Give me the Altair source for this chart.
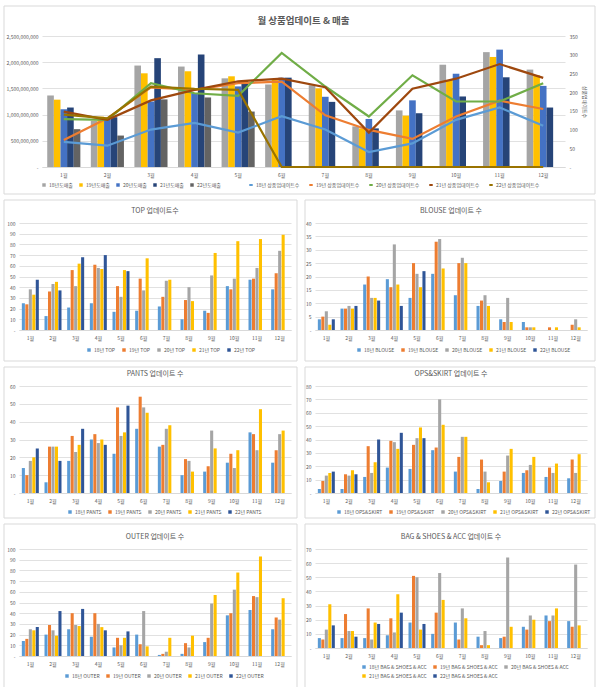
import altair as alt
import pandas as pd

FONT = "Noto Sans CJK KR"
TXT = "#595959"
GRID = "#D9D9D9"

months = ["1월", "2월", "3월", "4월", "5월", "6월", "7월", "8월", "9월", "10월", "11월", "12월"]
years = ["18", "19", "20", "21", "22"]

# ---- top chart: sales (bars) ----
sales_names = ["18년도매출", "19년도매출", "20년도매출", "21년도매출", "22년도매출"]
sales_18 = [1365e6, 880e6, 1936e6, 1917e6, 1692e6, 1575e6, 1560e6, 775e6, 1080e6, 1952e6, 2192e6, 1859e6]
sales_19 = [1285e6, 960e6, 1788e6, 1827e6, 1731e6, 1680e6, 1500e6, 737e6, 980e6, 1660e6, 2100e6, 1750e6]
sales_20 = [1102e6, 900e6, 1250e6, 1410e6, 1538e6, 1705e6, 1340e6, 917e6, 1272e6, 1780e6, 2240e6, 1548e6]
sales_21 = [1135e6, 950e6, 2077e6, 2147e6, 1640e6, 1705e6, 1243e6, 737e6, 1026e6, 1346e6, 1712e6, 1135e6]
sales_22 = [722e6, 600e6, 1290e6, 1327e6, 1058e6, None, None, None, None, None, None, None]
sales_colors = ["#A5A5A5", "#FFC000", "#4472C4", "#264478", "#636363"]

# ---- top chart: update counts (lines) ----
upd_names = ["18년 상품업데이트수", "19년 상품업데이트수", "20년 상품업데이트수", "21년 상품업데이트수", "22년 상품업데이트수"]
upd_18 = [67, 57, 100, 118, 92, 136, 100, 40, 63, 126, 159, 110]
upd_19 = [72, 130, 213, 206, 224, 228, 138, 99, 75, 135, 177, 155]
upd_20 = [128, 126, 224, 197, 190, 305, 215, 135, 245, 175, 175, 224]
upd_21 = [148, 126, 178, 206, 229, 236, 213, 92, 209, 236, 275, 238]
upd_22 = [140, 130, 215, 209, 206, 0, 0, 0, 0, 0, 0, 0]
upd_colors = ["#5B9BD5", "#ED7D31", "#70AD47", "#9E480E", "#997300"]

# ---- category panels ----
panel_colors = ["#5B9BD5", "#ED7D31", "#A5A5A5", "#FFC000", "#2F5597"]

top_18 = [25, 13, 21, 25, 17, 18, 22, 10, 18, 41, 47, 38]
top_19 = [24, 36, 56, 61, 41, 48, 31, 28, 16, 38, 48, 53]
top_20 = [38, 43, 41, 58, 31, 37, 46, 40, 51, 48, 58, 74]
top_21 = [33, 45, 62, 57, 56, 67, 47, 27, 72, 83, 85, 89]
top_22 = [47, 37, 68, 70, 55, None, None, None, None, None, None, None]

blouse_18 = [4, 8, 17, 19, 12, 21, 13, 9, 4, 3, 0, 0]
blouse_19 = [5, 8, 20, 16, 25, 33, 25, 11, 3, 1, 1, 2]
blouse_20 = [7, 9, 12, 32, 21, 34, 27, 13, 12, 1, 0, 4]
blouse_21 = [2, 8, 12, 17, 16, 23, 25, 9, 3, 1, 1, 1]
blouse_22 = [4, 9, 11, 9, 22, None, None, None, None, None, None, None]

pants_18 = [14, 6, 18, 30, 22, 36, 26, 10, 12, 17, 34, 17]
pants_19 = [10, 26, 32, 33, 48, 54, 27, 19, 15, 22, 33, 24]
pants_20 = [18, 26, 23, 28, 32, 48, 36, 18, 35, 14, 24, 33]
pants_21 = [20, 26, 27, 30, 34, 45, 38, 12, 25, 24, 47, 35]
pants_22 = [25, 18, 36, 27, 49, None, None, None, None, None, None, None]

ops_18 = [3, 3, 12, 19, 18, 32, 16, 3, 9, 15, 12, 11]
ops_19 = [9, 14, 35, 39, 36, 34, 27, 25, 16, 17, 19, 25]
ops_20 = [13, 13, 15, 38, 41, 70, 42, 16, 28, 21, 15, 15]
ops_21 = [15, 17, 23, 33, 49, 51, 42, 8, 33, 27, 22, 29]
ops_22 = [16, 14, 40, 45, 41, None, None, None, None, None, None, None]

outer_18 = [14, 20, 25, 18, 8, 20, 1, 2, 13, 38, 43, 25]
outer_19 = [16, 29, 40, 40, 17, 11, 2, 12, 17, 40, 56, 36]
outer_20 = [25, 24, 29, 30, 10, 42, 4, 8, 49, 62, 55, 34]
outer_21 = [24, 19, 28, 27, 17, 9, 17, 19, 57, 78, 93, 54]
outer_22 = [27, 42, 44, 24, 23, None, None, None, None, None, None, None]

bag_18 = [7, 7, 7, 9, 18, 10, 18, 8, 7, 15, 23, 19]
bag_19 = [6, 24, 28, 21, 51, 25, 6, 2, 8, 13, 19, 15]
bag_20 = [13, 12, 6, 11, 50, 53, 28, 12, 64, 23, 23, 59]
bag_21 = [31, 12, 18, 38, 13, 34, 21, 2, 15, 20, 28, 16]
bag_22 = [16, 8, 17, 25, 17, None, None, None, None, None, None, None]

dummy = pd.DataFrame({"d": [0]})


def long_table(names, series_list):
    rows = []
    for name, series in zip(names, series_list):
        for m, v in zip(months, series):
            if v is not None:
                rows.append({"month": m, "series": name, "value": v})
    return pd.DataFrame(rows)


def frame_layer(x1, y1, x2, y2):
    return alt.Chart(dummy).mark_rect(fill="white", fillOpacity=0, stroke=GRID, strokeWidth=1).encode(
        x=alt.value(x1), x2=alt.value(x2), y=alt.value(y1), y2=alt.value(y2)
    )


def text_layer(txt, x, y, size, bold=False):
    return alt.Chart(dummy).mark_text(
        text=txt, font=FONT, fontSize=size, color=TXT,
        fontWeight="bold" if bold else "normal", align="center", baseline="middle"
    ).encode(x=alt.value(x), y=alt.value(y))


def x_axis():
    return alt.Axis(title=None, labelFont=FONT, labelFontSize=5, labelColor=TXT, ticks=False,
                    domainColor=GRID, labelAngle=0, labelPadding=5, grid=False)


def legend(x, y, cols, stype="square"):
    return alt.Legend(title=None, orient="none", legendX=x, legendY=y, direction="horizontal",
                      columns=cols, labelFont=FONT, labelFontSize=5, labelColor=TXT,
                      symbolType=stype, symbolSize=12, symbolStrokeWidth=2,
                      columnPadding=5, rowPadding=3, labelOffset=2, padding=0)


# ---------------- top combined chart ----------------
TW, TH = 523, 131
sales_df = long_table(sales_names, [sales_18, sales_19, sales_20, sales_21, sales_22])
upd_df = long_table(upd_names, [upd_18, upd_19, upd_20, upd_21, upd_22])

top_bars = alt.Chart(sales_df).mark_bar().encode(
    x=alt.X("month:N", sort=months, scale=alt.Scale(domain=months, paddingInner=0.24, paddingOuter=0.12), axis=x_axis()),
    xOffset=alt.XOffset("series:N", sort=sales_names, scale=alt.Scale(domain=sales_names, paddingInner=0)),
    y=alt.Y("value:Q", scale=alt.Scale(domain=[0, 2.5e9]),
            axis=alt.Axis(title=None, orient="left", values=[0, 5e8, 1e9, 1.5e9, 2e9, 2.5e9],
                          labelExpr="datum.value == 0 ? '-' : format(datum.value, ',')", labelFont=FONT,
                          labelFontSize=5, labelColor=TXT, ticks=False, domain=False,
                          gridColor=GRID, gridWidth=0.8, labelPadding=4)),
    color=alt.Color("series:N", scale=alt.Scale(domain=sales_names, range=sales_colors),
                    legend=legend(-1, 146, 5, "square")),
)

top_lines = alt.Chart(upd_df).mark_line(strokeWidth=2.2).encode(
    x=alt.X("month:N", sort=months),
    y=alt.Y("value:Q", scale=alt.Scale(domain=[0, 350]),
            axis=alt.Axis(title="상품업데이트수", orient="right", values=list(range(0, 351, 50)),
                          labelExpr="datum.value == 0 ? '-' : datum.label", labelFont=FONT,
                          labelFontSize=5, labelColor=TXT, ticks=False, domain=False, grid=False,
                          labelPadding=4, titleFont=FONT, titleFontSize=5, titleColor=TXT,
                          titleFontWeight="normal", titlePadding=4)),
    stroke=alt.Stroke("series:N", scale=alt.Scale(domain=upd_names, range=upd_colors),
                      legend=legend(206, 146, 5, "stroke")),
)

top_chart = alt.layer(
    frame_layer(-38, -30, 553, 158),
    text_layer("월 상품업데이트 & 매출", TW / 2, -15, 9.5, bold=True),
    top_bars,
    top_lines,
).resolve_scale(y="independent", color="independent").properties(width=TW, height=TH)

# invisible spacer that pushes the top chart's plot 23px right of the panels' plots
spacer = alt.Chart(dummy).mark_point(opacity=0).encode(
    x=alt.value(0), y=alt.value(0)
).properties(width=23, height=1)


# ---------------- category panels ----------------
def panel(title, suffix, series_list, ymax, step, height, frame, leg_xy, cols=5, pw=272):
    names = [f"{y}년 {suffix}" for y in years]
    df = long_table(names, series_list)
    bars = alt.Chart(df).mark_bar().encode(
        x=alt.X("month:N", sort=months, scale=alt.Scale(domain=months, paddingInner=0.25, paddingOuter=0.125),
                axis=x_axis()),
        xOffset=alt.XOffset("series:N", sort=names, scale=alt.Scale(domain=names, paddingInner=0.12)),
        y=alt.Y("value:Q", scale=alt.Scale(domain=[0, ymax]),
                axis=alt.Axis(title=None, values=list(range(0, ymax + 1, step)),
                              labelExpr="datum.value == 0 ? '-' : datum.label", labelFont=FONT,
                              labelFontSize=5, labelColor=TXT, ticks=False, domain=False,
                              gridColor=GRID, gridWidth=0.8, labelPadding=4)),
        color=alt.Color("series:N", scale=alt.Scale(domain=names, range=panel_colors),
                        legend=legend(leg_xy[0], leg_xy[1], cols)),
    )
    return alt.layer(
        frame_layer(*frame),
        text_layer(title, pw / 2, -12, 7),
        bars,
    ).properties(width=pw, height=height)


p_top = panel("TOP 업데이트수", "TOP", [top_18, top_19, top_20, top_21, top_22], 100, 10, 107,
              (-15, -23, 278, 138), (67, 124))
p_blouse = panel("BLOUSE 업데이트 수", "BLOUSE", [blouse_18, blouse_19, blouse_20, blouse_21, blouse_22], 40, 5, 107,
                 (-10, -23, 280, 138), (41, 124))
p_pants = panel("PANTS 업데이트 수", "PANTS", [pants_18, pants_19, pants_20, pants_21, pants_22], 60, 10, 107,
                (-15, -19, 278, 132), (48, 123))
p_ops = panel("OPS&SKIRT 업데이트 수", "OPS&SKIRT", [ops_18, ops_19, ops_20, ops_21, ops_22], 80, 10, 107,
              (-10, -19, 280, 132), (21, 123))
p_outer = panel("OUTER 업데이트 수", "OUTER", [outer_18, outer_19, outer_20, outer_21, outer_22], 100, 10, 107,
                (-15, -25, 278, 142), (45, 124))
p_bag = panel("BAG & SHOES & ACC 업데이트 수", "BAG & SHOES & ACC", [bag_18, bag_19, bag_20, bag_21, bag_22], 70, 10, 99,
              (-10, -25, 280, 142), (46, 115), cols=3)

res = dict(x="independent", y="independent", color="independent", xOffset="independent")
row0 = alt.hconcat(spacer, top_chart, spacing=0, bounds="flush").resolve_scale(
    x="independent", y="independent", color="independent", stroke="independent", xOffset="independent")
row1 = alt.hconcat(p_top, p_blouse, spacing=24, bounds="flush").resolve_scale(**res)
row2 = alt.hconcat(p_pants, p_ops, spacing=24, bounds="flush").resolve_scale(**res)
row3 = alt.hconcat(p_outer, p_bag, spacing=24, bounds="flush").resolve_scale(**res)

chart = alt.vconcat(row0, row1, row2, row3, spacing=4).resolve_scale(
    **res
).properties(
    padding={"left": 3, "top": 5, "right": 2, "bottom": 1},
    background="white",
).configure_view(strokeWidth=0)

chart.save("out.html", embed_options={"renderer": "svg", "actions": False})
